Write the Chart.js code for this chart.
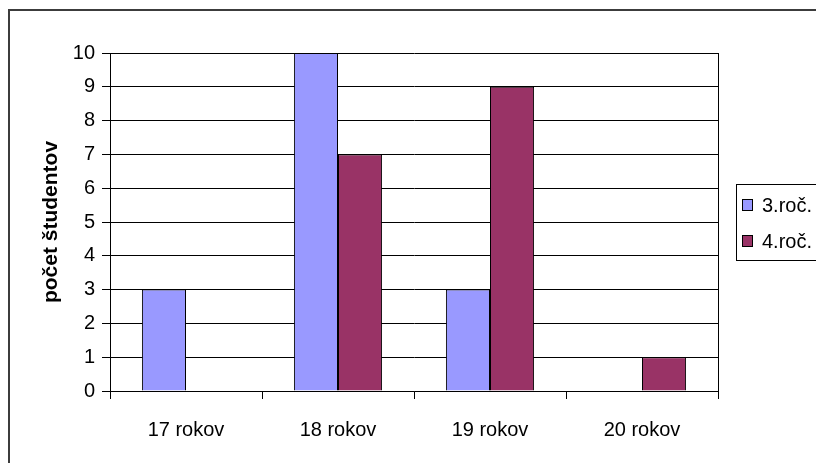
<!DOCTYPE html>
<html>
<head>
<meta charset="utf-8">
<script src="https://cdn.jsdelivr.net/npm/chart.js@4/dist/chart.umd.min.js"></script>
<style>
  html, body { margin: 0; padding: 0; background: #fff; }
  #wrap { width: 816px; height: 463px; }
</style>
</head>
<body>
<div id="wrap"><canvas id="c" width="816" height="463"></canvas></div>
<script>
// Age groups and student counts per year of study
const categories = ['17 rokov', '18 rokov', '19 rokov', '20 rokov'];
const seriesNames = ['3.roč.', '4.roč.'];
const thirdYear = [3, 10, 3, 0];
const fourthYear = [0, 7, 9, 1];
const yTicks = [0, 1, 2, 3, 4, 5, 6, 7, 8, 9, 10];
const yTitle = 'počet študentov';

const FONT = "'Liberation Sans', Arial, sans-serif";
const colors = ['#9999FF', '#993366'];

// Frame around the whole chart, right border of the plot and a boxed legend
const decor = {
  id: 'decor',
  afterDraw(chart) {
    const ctx = chart.ctx;
    const a = chart.chartArea;
    ctx.save();
    // outer frame
    ctx.strokeStyle = '#3c3c3c';
    ctx.lineWidth = 2;
    ctx.beginPath();
    ctx.moveTo(9, 470);
    ctx.lineTo(9, 10);
    ctx.lineTo(830, 10);
    ctx.stroke();
    // plot right edge
    ctx.strokeStyle = '#000';
    ctx.lineWidth = 1;
    ctx.beginPath();
    ctx.moveTo(Math.round(a.right) + 0.5, a.top);
    ctx.lineTo(Math.round(a.right) + 0.5, a.bottom);
    ctx.stroke();
    // legend box
    const lx = 736.5, ly = 184.5, lh = 76;
    ctx.strokeStyle = '#000';
    ctx.strokeRect(lx, ly, 120, lh);
    ctx.font = '20px ' + FONT;
    ctx.textBaseline = 'middle';
    chart.data.datasets.forEach((ds, i) => {
      const cy = 205 + i * 36;
      ctx.fillStyle = ds.backgroundColor;
      ctx.fillRect(742, cy - 6, 11, 12);
      ctx.strokeStyle = '#000';
      ctx.strokeRect(742.5, cy - 5.5, 10, 11);
      ctx.fillStyle = '#000';
      ctx.fillText(ds.label, 762, cy + 1);
    });
    ctx.restore();
  }
};

new Chart(document.getElementById('c'), {
  type: 'bar',
  data: {
    labels: categories,
    datasets: [
      { label: seriesNames[0], data: thirdYear, backgroundColor: colors[0] },
      { label: seriesNames[1], data: fourthYear, backgroundColor: colors[1] }
    ]
  },
  options: {
    responsive: false,
    animation: false,
    devicePixelRatio: 1,
    layout: { padding: { top: 53, right: 98, bottom: 0, left: 0 } },
    datasets: {
      bar: {
        categoryPercentage: 0.58,
        barPercentage: 1.0,
        borderColor: '#000',
        borderWidth: 1,
        borderSkipped: 'start'
      }
    },
    plugins: {
      legend: { display: false },
      tooltip: { enabled: false }
    },
    scales: {
      x: {
        offset: true,
        grid: {
          offset: true,
          drawOnChartArea: false,
          drawTicks: true,
          tickLength: 8,
          tickColor: '#000'
        },
        border: { display: true, color: '#000', width: 1 },
        ticks: {
          color: '#000',
          padding: 19,
          maxRotation: 0,
          font: { family: FONT, size: 20 }
        },
        afterFit(scale) { scale.height = 72; }
      },
      y: {
        min: 0,
        max: 10,
        afterBuildTicks(scale) { scale.ticks = yTicks.map(v => ({ value: v })); },
        grid: {
          color: '#000',
          lineWidth: 1,
          tickLength: 8,
          tickColor: '#000'
        },
        border: { display: true, color: '#000', width: 1 },
        ticks: {
          color: '#000',
          padding: 7,
          font: { family: FONT, size: 20 }
        },
        title: {
          display: true,
          text: yTitle,
          color: '#000',
          padding: { top: 39, bottom: 0 },
          font: { family: FONT, size: 21, weight: 'bold' }
        },
        afterFit(scale) { scale.width = 110; }
      }
    }
  },
  plugins: [decor]
});
</script>
</body>
</html>
